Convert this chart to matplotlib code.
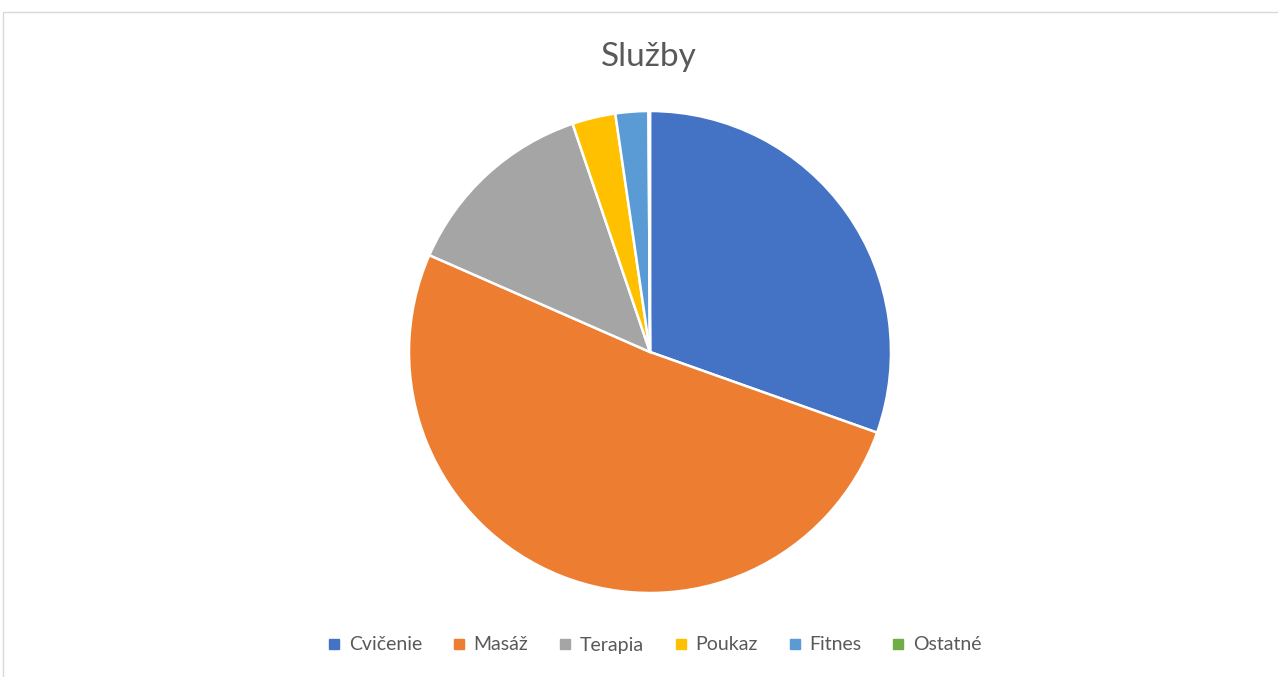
import matplotlib
matplotlib.use("Agg")
import matplotlib.pyplot as plt
from matplotlib.patches import Rectangle
from matplotlib.lines import Line2D

categories = ["Cvičenie", "Masáž", "Terapia", "Poukaz", "Fitnes", "Ostatné"]
values = [30.4, 51.1, 13.2, 2.9, 2.2, 0.1]
colors = ["#4472C4", "#ED7D31", "#A5A5A5", "#FFC000", "#5B9BD5", "#70AD47"]
title = "Služby"

plt.rcParams['font.family'] = ['Lato', 'DejaVu Sans']

W, H = 1278, 677
fig = plt.figure(figsize=(W / 100, H / 100), dpi=100)

# frame
fig.patches.append(Rectangle((3 / W, -0.1), 1.1, (H - 11) / H + 0.1 - 1 / H,
                             transform=fig.transFigure, fill=False,
                             edgecolor="#d9d9d9", linewidth=1.0))

cx, cy, r = 650, 352, 241
ax = fig.add_axes([(cx - r) / W, (H - cy - r) / H, 2 * r / W, 2 * r / H])
ax.pie(values, colors=colors, startangle=90, counterclock=False, radius=1,
       wedgeprops=dict(edgecolor="white", linewidth=1.8))
ax.set_xlim(-1, 1)
ax.set_ylim(-1, 1)
ax.set_aspect("equal")
ax.axis("off")

fig.text(649 / W, 1 - 57 / H, title, ha="center", va="center",
         fontsize=24, color="#595959")

handles = [Line2D([], [], marker="s", linestyle="none", markersize=6.5,
                  markerfacecolor=c, markeredgecolor=c) for c in colors]
fig.legend(handles, categories, loc="center", bbox_to_anchor=(654 / W, 1 - 645 / H),
           ncol=len(categories), frameon=False, fontsize=14,
           handlelength=0.8, handletextpad=0.35, columnspacing=1.5,
           labelcolor="#595959")

fig.savefig("out.png", dpi=100)
